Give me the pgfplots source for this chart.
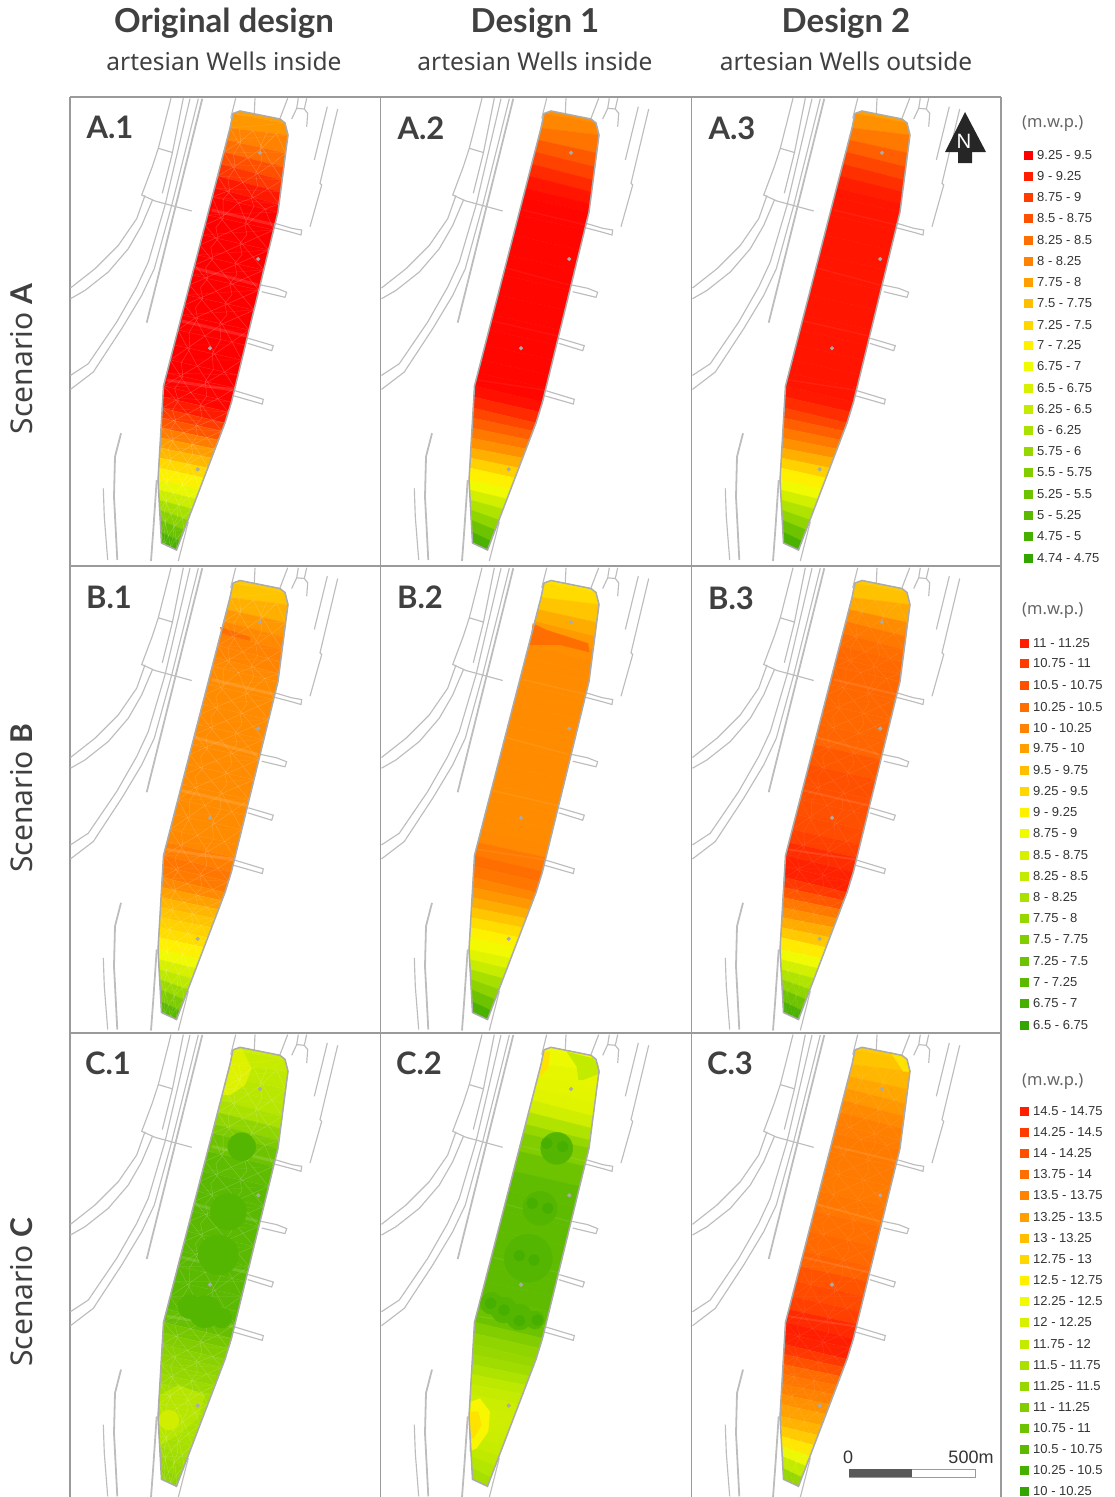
\documentclass[border=0pt]{standalone}
\usepackage{fontspec}
\setmainfont{Noto Sans}
\newfontfamily\lab{Liberation Sans}
\newfontfamily\hb{Lato}
\usepackage{pgfplots}
\usepackage{pgfplotstable}
\pgfplotsset{compat=1.18}
\definecolor{txt}{HTML}{404040}
\definecolor{strk}{HTML}{BDBDBD}
\definecolor{edge}{HTML}{ABABAB}
\definecolor{frm}{HTML}{9A9A9A}
\definecolor{cA}{HTML}{54B600}
\definecolor{cB}{HTML}{46AF00}
\definecolor{hotB}{HTML}{FF6E00}
\definecolor{l85}{HTML}{FFE300}
\definecolor{l95}{HTML}{F8F600}
\definecolor{l12}{HTML}{C3EB00}
\definecolor{l107}{HTML}{DEF200}
\definecolor{l125}{HTML}{B6E600}
\definecolor{l11}{HTML}{D2EE00}

\pgfplotstableread{
x y a1 a2 a3 b1 b2 b3 c1 c2 c3
240 111 6 5.5 6 7.5 8.5 7.5 11.5 10 7.5
280 119 6 5.5 6 7.5 8.5 7.5 11.5 10 7.5
233 113.5 6 5.5 6 7.5 8.5 7.5 11.5 10 7.5
285 123 6 5.5 6 7.5 8.5 7.5 11.5 10 7.5
230 128 5.5 4.8 5 7 7.8 6.8 12 10.3 7
288 135 5.5 4.8 5 7 7.8 6.8 12 10.3 7
226.9 140 4.5 3.8 4 6 6.8 5.8 12.3 10.5 6.5
285.7 153 4.5 3.8 4 6 6.8 5.8 12.3 10.5 6.5
223.8 152 3.5 2.8 3 5.5 6 4.8 12.5 10.5 6
283.8 167 3.5 2.8 3 5.5 6 4.8 12.5 10.5 6
220.7 164 2.5 1.8 2 5 5.6 4.2 12.5 10.8 5.5
282.2 180 2.5 1.8 2 5 5.6 4.2 12.5 10.8 5.5
217.6 176 1.2 1 1.2 5 5.3 3.9 13.5 12 5
280.6 192 1.2 1 1.2 5 5.3 3.9 13.5 12 5
214.5 188 .5 .4 .8 5.2 5.3 3.8 15 13.5 4.8
279 204 .5 .4 .8 5.2 5.3 3.8 15 13.5 4.8
212.2 197 .2 .2 .7 5.3 5.3 3.8 15.5 14.5 4.7
278 212 .2 .2 .7 5.3 5.3 3.8 15.5 14.5 4.7
207.6 215 0 .2 .7 5.3 5.3 3.8 16.5 15.5 4.6
273.6 230 0 .2 .7 5.3 5.3 3.8 16.5 15.5 4.6
202.5 235 0 .2 .7 5.3 5.3 3.8 17 16.6 4.6
268.7 250 0 .2 .7 5.3 5.3 3.8 17 16.6 4.6
197.3 255 0 .2 .7 5.3 5.3 3.8 17 16.8 4.6
263.8 270 0 .2 .7 5.3 5.3 3.8 17 16.8 4.6
192.1 275 0 .2 .7 5.3 5.3 3.6 17 16.8 4.3
258.9 290 0 .2 .7 5.3 5.3 3.6 17 16.8 4.3
187 295 0 .2 .7 5.3 5.3 3 17 16.8 3.9
254 310 0 .2 .7 5.3 5.3 3 17 16.8 3.9
181.8 315 0 .2 .7 5.3 5.3 3 17 16.8 3.8
249.1 330 0 .2 .7 5.3 5.3 3 17 16.8 3.8
177.9 330 0 .2 .7 5.3 5.3 3 17 16.8 3.5
245.5 345 0 .2 .7 5.3 5.3 3 17 16.8 3.5
174 345 0 .2 .7 5.3 5.3 2.9 17 16.8 2.7
241.8 360 0 .2 .7 5.3 5.3 2.9 17 16.8 2.7
170.2 360 0 .2 .7 5.3 5.3 2.7 17 16.8 2.7
238.1 375 0 .2 .7 5.3 5.3 2.7 17 16.8 2.7
166.8 373 0 .2 .7 5.2 5.2 1.8 16.8 16.5 1.7
234.9 388 0 .2 .7 5.2 5.2 1.8 16.8 16.5 1.7
163.5 386 .2 .3 .7 4.5 4 1.3 16 15.5 1.1
231.5 402 .2 .3 .7 4.5 4 1.3 16 15.5 1.1
162.9 397 .3 .8 1 4.3 4 1 15.2 14.5 1
228.4 412 .3 .8 1 4.3 4 1 15.2 14.5 1
162.2 408 1.5 2 2 5 4.8 1.3 14.8 14 1.3
225 423 1.5 2 2 5 4.8 1.3 14.8 14 1.3
161.6 418 2.5 3 3 5.5 5.5 2.5 14.5 13.8 2.4
221.9 431 2.5 3 3 5.5 5.5 2.5 14.5 13.8 2.4
161 428 4 4 4 6.5 6 4 14.2 13.2 3.6
218.5 440 4 4 4 6.5 6 4 14.2 13.2 3.6
160.5 438 5.5 5 5 7 6.8 5 14 12.5 4.2
215.1 449 5.5 5 5 7 6.8 5 14 12.5 4.2
159.9 448 6.3 6 6 7.5 7.8 6 13.5 12 4.7
211.6 458 6.3 6 6 7.5 7.8 6 13.5 12 4.7
159.3 458 7.3 7 7 8 8.7 6.8 13.2 11.8 5.2
207.8 468 7.3 7 7 8 8.7 6.8 13.2 11.8 5.2
158.7 468 8.8 8.5 8.5 8.5 9.5 8 13 11.5 5.8
204 478 8.8 8.5 8.5 8.5 9.5 8 13 11.5 5.8
158 480 9.6 9.5 9.5 9.5 10.3 9.5 13 11.5 6.3
199.8 489 9.6 9.5 9.5 9.5 10.3 9.5 13 11.5 6.3
158.6 490 11 10.5 10.5 10.5 11 10.5 13 11.5 7
196 499 11 10.5 10.5 10.5 11 10.5 13 11.5 7
159.1 500 12.3 12 12 11.5 12.5 12 13 11.7 8
192.1 509 12.3 12 12 11.5 12.5 12 13 11.7 8
159.7 510 14 13.5 13.5 13 13.8 13.5 13.3 12 9.3
188 520 14 13.5 13.5 13 13.8 13.5 13.3 12 9.3
160.2 520 15.3 15 15 14.5 15 15 13.6 12.3 11
184.1 530 15.3 15 15 14.5 15 15 13.6 12.3 11
160.9 532 17 17 17 16 17 17 14 12.8 13
179.9 541 17 17 17 16 17 17 14 12.8 13
161.5 543 18.5 18.5 18.5 18 18.5 18.5 14.5 13.5 15
176.5 550 18.5 18.5 18.5 18 18.5 18.5 14.5 13.5 15
}\bands

\pgfplotstableread{
xl yl xr yr
230 128 288 135
226.9 140 285.7 153
223.8 152 283.8 167
220.7 164 282.2 180
217.6 176 280.6 192
214.5 188 279 204
212.2 197 278 212
207.6 215 273.6 230
205 225 271 240
202.5 235 268.7 250
199.9 245 266.2 260
197.3 255 263.8 270
194.7 265 261.3 280
192.1 275 258.9 290
189.5 285 256.4 300
187 295 254 310
184.4 305 251.5 320
181.8 315 249.1 330
177.9 330 245.5 345
174 345 241.8 360
170.2 360 238.1 375
166.8 373 234.9 388
163.5 386 231.5 402
162.9 397 228.4 412
162.2 408 225 423
161.6 418 221.9 431
161 428 218.5 440
160.5 438 215.1 449
159.9 448 211.6 458
159.3 458 207.8 468
158.7 468 204 478
158 480 199.8 489
158.6 490 196 499
159.1 500 192.1 509
159.7 510 188 520
160.2 520 184.1 530
160.9 532 179.9 541
161.5 543 176.5 550
}\meshrows

\pgfplotstableread{
x y
171 98.3
158.3 148.3
171.7 152.3
nan nan
158.3 148.3
152.3 166.7
141.7 195
155 201
191.7 211
nan nan
183.3 98.3
172.3 153.3
162.3 193.3
nan nan
190 98.7
178.3 148.7
165 205.4
148.3 262
136.7 287
116.7 322
88.3 363.7
70.5 375.4
nan nan
198.3 98.7
186.7 145.4
171.7 205.4
154.3 268.7
141.7 295.4
121.7 328.7
93.3 372
70.5 389.4
nan nan
70.5 288
95 268.7
118.3 245.4
136.7 218.7
145 195.4
nan nan
70.5 298.7
85 290.4
108.3 272
128.3 248.7
141.7 225.4
152.3 200.4
nan nan
235.7 98.3
230.7 118.3
nan nan
255 98.3
254.3 113.3
nan nan
287.7 98.3
280 118.3
nan nan
298.3 98.3
296.7 108.3
291.7 119
nan nan
306.7 98.3
304.3 109
307.7 113.3
306.7 126.7
nan nan
296.7 108.3
304.3 109
nan nan
327.3 106.7
314.3 160
nan nan
337.7 109
320 183.3
321.7 185
310 226.7
nan nan
275 223.3
291.7 228.3
301.7 230
301 235
291.7 232.3
274.3 227.7
nan nan
261 285
276.7 288.3
286.7 292.3
285 297.3
261.7 291.7
nan nan
248.3 338.3
263.3 342.7
273.3 345.7
271.7 350.7
247.7 343.3
nan nan
235 390.7
263.3 399.3
262.3 404
233.3 395.7
nan nan
103.3 488.3
104.3 516.7
107.7 560
nan nan
188.3 521.7
178.3 561
}\streets

\pgfplotstableread{
x y
202.3 98.7
175 208.7
146.7 322.7
nan nan
121 433.3
115 456.7
114 496.7
117.3 560
nan nan
156.7 480
153.3 530
151 561
}\thick

\pgfplotstableread{
x y
233 113.5
240 111
280 119
285 123
288 135
278 212
231.5 402
225 423
176.5 550
161.5 543
158 480
163.5 386
230 128
233 113.5
}\site

\pgfplotstableread{
x y
211.7 210
275 225
nan nan
195 268
258 285
nan nan
181.7 321
246.7 336
nan nan
166.7 380
233 390
}\dikes

\pgfplotstableread{
x y
260 152.7
258.3 259
210 348.3
197.7 469.3
}\wells

\pgfplotstableread{
x y l
1028 155 0
1028 176 1
1028 197 2
1028 218 3
1028 240 4
1028 261 5
1028 282 6
1028 303 7
1028 325 8
1028 345 9
1028 366 10
1028 388 11
1028 409 12
1028 430 13
1028 451 14
1028 472 15
1028 494 16
1028 515 17
1028 536 18
1028 558 19
1024 643 1
1024 663 2
1024 685 3
1024 707 4
1024 728 5
1024 748 6
1024 770 7
1024 791 8
1024 812 9
1024 833 10
1024 855 11
1024 876 12
1024 897 13
1024 918 14
1024 939 15
1024 961 16
1024 982 17
1024 1003 18
1024 1025 19
1024 1111 1
1024 1132 2
1024 1153 3
1024 1174 4
1024 1195 5
1024 1217 6
1024 1238 7
1024 1259 8
1024 1280 9
1024 1301 10
1024 1322 11
1024 1344 12
1024 1365 13
1024 1386 14
1024 1407 15
1024 1428 16
1024 1449 17
1024 1470 18
1024 1491 19
}\legsq

\newcommand{\base}[3]{%
 \addplot[strk,line width=1.15,unbounded coords=jump] table[x expr=\thisrow{x}+#1,y expr=\thisrow{y}+#2]{\streets};
 \addplot[strk,line width=1.8,unbounded coords=jump] table[x expr=\thisrow{x}+#1,y expr=\thisrow{y}+#2]{\thick};
 \addplot[surf,shader=flat,mesh/cols=2,mesh/rows=35,point meta=\thisrow{#3}] table[x expr=\thisrow{x}+#1,y expr=\thisrow{y}+#2]{\bands};
}
\newcommand{\zig}[5]{%
 \addplot[white,opacity=#3,line width=.4,forget plot] table[x expr={\thisrow{xl}+(\thisrow{xr}-\thisrow{xl})*(#4+#5*(2*mod(\coordindex,2)-1))+#1},y expr={\thisrow{yl}+(\thisrow{yr}-\thisrow{yl})*(#4+#5*(2*mod(\coordindex,2)-1))+#2}]{\meshrows};
}
\newcommand{\triangles}[3]{%
 \addplot[white,opacity=#3*.45,line width=.4] table[x expr=\thisrow{x}+#1,y expr=\thisrow{y}+#2]{\bands};
 \zig{#1}{#2}{#3}{.1}{.1}\zig{#1}{#2}{#3}{.3}{-.1}
 \zig{#1}{#2}{#3}{.5}{.1}\zig{#1}{#2}{#3}{.7}{-.1}
 \zig{#1}{#2}{#3}{.9}{.1}
 \zig{#1}{#2}{#3}{.2}{.035}\zig{#1}{#2}{#3}{.6}{-.035}
}
\newcommand{\finish}[4]{%
 \addplot[white,opacity=#3,line width=#4,unbounded coords=jump] table[x expr=\thisrow{x}+#1,y expr=\thisrow{y}+#2]{\dikes};
 \addplot[edge,line width=1.5] table[x expr=\thisrow{x}+#1,y expr=\thisrow{y}+#2]{\site};
 \addplot[only marks,color=edge,mark=*,mark size=1.9] table[x expr=\thisrow{x}+#1,y expr=\thisrow{y}+#2]{\wells};
}
\newcommand{\blobs}[2]{\addplot[only marks,color=#2,mark=*,mark size=#1] coordinates}
\newcommand{\leg}[3]{\node[anchor=west,inner sep=0pt,txt!80!black,font=\lab\fontsize{13}{15}\selectfont] at (axis cs:#1,#2) {#3};}
\newcommand{\plabel}[3]{\node[anchor=center,inner sep=0pt,txt,font=\hb\bfseries\fontsize{31}{33}\selectfont] at (axis cs:#1,#2) {#3};}

\begin{document}
\begin{tikzpicture}
\useasboundingbox (0,0) rectangle (1115pt,1497pt);
\begin{axis}[
  at={(0,0)},anchor=south west,
  scale only axis,width=1115pt,height=1497pt,
  xmin=0,xmax=1115,ymin=0,ymax=1497,y dir=reverse,
  hide axis,enlargelimits=false,
  point meta min=0,point meta max=19,
  colormap={site}{rgb255=(255,0,0) rgb255=(255,30,0) rgb255=(255,60,0) rgb255=(255,80,0) rgb255=(255,110,0) rgb255=(255,130,0) rgb255=(255,160,0) rgb255=(255,190,0) rgb255=(255,215,0) rgb255=(255,240,0) rgb255=(240,250,0) rgb255=(215,240,0) rgb255=(195,235,0) rgb255=(170,225,0) rgb255=(150,215,0) rgb255=(130,205,0) rgb255=(110,195,0) rgb255=(90,185,0) rgb255=(70,175,0) rgb255=(50,165,0)},
  unbounded coords=jump,
]
\addplot[frm,line width=1.5] coordinates {(70,97)(1001,97)};
\addplot[frm,line width=1.5] coordinates {(70,566)(1001,566)};
\addplot[frm,line width=1.5] coordinates {(70,1033)(1001,1033)};
\addplot[frm,line width=1.3] coordinates {(70,97)(70,1497)};
\addplot[frm,line width=1.3] coordinates {(380.5,97)(380.5,1497)};
\addplot[frm,line width=1.3] coordinates {(691.5,97)(691.5,1497)};
\addplot[frm,line width=1.3] coordinates {(1001,97)(1001,1497)};

\base{0}{0}{a1}
\base{311}{0}{a2}
\base{622}{0}{a3}
\base{0}{469.5}{b1}
\base{311}{469.5}{b2}
\base{622}{469.5}{b3}
\base{0}{936.3}{c1}
\base{311}{936.3}{c2}
\base{622}{936.3}{c3}

\addplot[fill=hotB,draw=none] coordinates {(220,627)(250,637)(250,641)(222,634)} -- cycle;
\addplot[fill=hotB,draw=none] coordinates {(532.7,623.3)(546.7,630)(588.3,643.3)(589.3,652.3)(560,645)(530,645)} -- cycle;
\addplot[fill=l107,draw=none] coordinates {(233.3,1050)(241.7,1048.3)(251.7,1068.3)(245,1085)(230,1095)(221.7,1095)(228.3,1068.3)} -- cycle;
\addplot[fill=l125,draw=none] coordinates {(160,1395)(178.3,1385)(205,1395)(198.3,1418.3)(178.3,1435)(160,1445)} -- cycle;
\blobs{10}{l11} {(169,1420)};
\blobs{14}{cA} {(241.7,1146.7)};
\blobs{18}{cA} {(228.3,1211.7)};
\blobs{20}{cA} {(218.3,1255)};
\blobs{16}{cA} {(205,1311.7)};
\blobs{12}{cA} {(190,1306.7)};
\blobs{10}{cA} {(221.7,1318)};
\addplot[fill=l85,draw=none] coordinates {(543.3,1051.7)(550,1051.7)(548.3,1068.3)(540,1076.7)(539.3,1071.7)} -- cycle;
\addplot[fill=l12,draw=none] coordinates {(566.7,1051.7)(593.3,1058.3)(598.3,1065)(600,1073.3)(583.3,1080)(578.3,1080)(576.7,1066.7)} -- cycle;
\addplot[fill=l95,draw=none] coordinates {(470.7,1401.7)(480,1398.3)(490,1411.7)(488.3,1431.7)(476.7,1448.3)(469.3,1451.7)} -- cycle;
\addplot[fill=l85,draw=none] coordinates {(470,1411.7)(478.3,1411.7)(481.7,1425)(475,1436.7)(469.3,1440)} -- cycle;
\blobs{16}{cA} {(556.7,1148.3)};
\blobs{17}{cA} {(540,1208.3)};
\blobs{24}{cA} {(528.3,1258.3)};
\blobs{11}{cA} {(491.5,1303.3)};
\blobs{13}{cA} {(504,1310)(519.3,1317)};
\blobs{9}{cA} {(535,1320)};
\blobs{5.5}{cB} {(546.7,1143.3)(562.7,1146.7)(532.3,1203.3)(547.7,1208.3)(519.3,1255.7)(534,1260)(490.7,1303.3)(504,1310)(519.3,1320.7)(537.3,1320)};
\addplot[fill=l85,draw=none] coordinates {(890,1051.7)(906.7,1058.3)(910.7,1071.7)(903.3,1071.7)} -- cycle;

\triangles{0}{0}{.24}
\triangles{0}{469.5}{.2}
\triangles{0}{936.3}{.22}
\triangles{622}{469.5}{.1}
\triangles{622}{936.3}{.1}

\finish{0}{0}{.13}{3}
\finish{311}{0}{.05}{1.5}
\finish{622}{0}{.06}{1.5}
\finish{0}{469.5}{.13}{3}
\finish{311}{469.5}{.07}{1.5}
\finish{622}{469.5}{.1}{2}
\finish{0}{936.3}{.13}{3}
\finish{311}{936.3}{.07}{1.5}
\finish{622}{936.3}{.1}{2}

\addplot[fill=black!85,draw=none] coordinates {(945,152)(965,112)(986,152)(972,152)(972,163)(958,163)(958,152)} -- cycle;
\node[white,font=\fontsize{20}{22}\selectfont,inner sep=0pt] at (axis cs:964,141) {N};

\addplot[fill=white,draw=frm,line width=.8] coordinates {(849,1469)(975,1469)(975,1477)(849,1477)} -- cycle;
\addplot[fill=black!65,draw=none] coordinates {(849,1469)(912,1469)(912,1477)(849,1477)} -- cycle;
\node[txt!80!black,inner sep=0pt,font=\lab\fontsize{18}{20}\selectfont] at (axis cs:848,1457) {0};
\node[txt!80!black,inner sep=0pt,font=\lab\fontsize{18}{20}\selectfont] at (axis cs:971,1457) {500m};

\addplot[scatter,only marks,scatter src=explicit,mark=square*,mark size=4.3,scatter/use mapped color={draw=mapped color,fill=mapped color}] table[x=x,y=y,meta=l]{\legsq};

\node[txt,font=\hb\bfseries\fontsize{33}{35}\selectfont,inner sep=0pt] at (axis cs:224,23) {Original design};
\node[txt,font=\hb\bfseries\fontsize{33}{35}\selectfont,inner sep=0pt] at (axis cs:535,23) {Design 1};
\node[txt,font=\hb\bfseries\fontsize{33}{35}\selectfont,inner sep=0pt] at (axis cs:846,23) {Design 2};
\node[txt,font=\fontsize{24.5}{26}\selectfont,inner sep=0pt] at (axis cs:224,61) {artesian Wells inside};
\node[txt,font=\fontsize{24.5}{26}\selectfont,inner sep=0pt] at (axis cs:535,61) {artesian Wells inside};
\node[txt,font=\fontsize{24.5}{26}\selectfont,inner sep=0pt] at (axis cs:846,61) {artesian Wells outside};

\node[txt,rotate=90,font=\fontsize{30}{32}\selectfont,inner sep=0pt] at (axis cs:22,359) {Scenario {\hb\bfseries A}};
\node[txt,rotate=90,font=\fontsize{30}{32}\selectfont,inner sep=0pt] at (axis cs:22,798) {Scenario {\hb\bfseries B}};
\node[txt,rotate=90,font=\fontsize{30}{32}\selectfont,inner sep=0pt] at (axis cs:22,1292) {Scenario {\hb\bfseries C}};

\plabel{110}{127}{A.1}\plabel{421}{128}{A.2}\plabel{732}{128}{A.3}
\plabel{109}{597}{B.1}\plabel{420}{597}{B.2}\plabel{731}{598}{B.3}
\plabel{108}{1063}{C.1}\plabel{419}{1063}{C.2}\plabel{730}{1063}{C.3}

\node[anchor=west,inner sep=0pt,txt!80,font=\fontsize{16.5}{18}\selectfont] at (axis cs:1022,124) {(m.w.p.)};
\node[anchor=west,inner sep=0pt,txt!80,font=\fontsize{16.5}{18}\selectfont] at (axis cs:1022,611) {(m.w.p.)};
\node[anchor=west,inner sep=0pt,txt!80,font=\fontsize{16.5}{18}\selectfont] at (axis cs:1022,1082) {(m.w.p.)};
\leg{1037}{155}{9.25 - 9.5}\leg{1037}{176}{9 - 9.25}\leg{1037}{197}{8.75 - 9}\leg{1037}{218}{8.5 - 8.75}
\leg{1037}{240}{8.25 - 8.5}\leg{1037}{261}{8 - 8.25}\leg{1037}{282}{7.75 - 8}\leg{1037}{303}{7.5 - 7.75}
\leg{1037}{325}{7.25 - 7.5}\leg{1037}{345}{7 - 7.25}\leg{1037}{366}{6.75 - 7}\leg{1037}{388}{6.5 - 6.75}
\leg{1037}{409}{6.25 - 6.5}\leg{1037}{430}{6 - 6.25}\leg{1037}{451}{5.75 - 6}\leg{1037}{472}{5.5 - 5.75}
\leg{1037}{494}{5.25 - 5.5}\leg{1037}{515}{5 - 5.25}\leg{1037}{536}{4.75 - 5}\leg{1037}{558}{4.74 - 4.75}
\leg{1033}{643}{11 - 11.25}\leg{1033}{663}{10.75 - 11}\leg{1033}{685}{10.5 - 10.75}\leg{1033}{707}{10.25 - 10.5}
\leg{1033}{728}{10 - 10.25}\leg{1033}{748}{9.75 - 10}\leg{1033}{770}{9.5 - 9.75}\leg{1033}{791}{9.25 - 9.5}
\leg{1033}{812}{9 - 9.25}\leg{1033}{833}{8.75 - 9}\leg{1033}{855}{8.5 - 8.75}\leg{1033}{876}{8.25 - 8.5}
\leg{1033}{897}{8 - 8.25}\leg{1033}{918}{7.75 - 8}\leg{1033}{939}{7.5 - 7.75}\leg{1033}{961}{7.25 - 7.5}
\leg{1033}{982}{7 - 7.25}\leg{1033}{1003}{6.75 - 7}\leg{1033}{1025}{6.5 - 6.75}
\leg{1033}{1111}{14.5 - 14.75}\leg{1033}{1132}{14.25 - 14.5}\leg{1033}{1153}{14 - 14.25}\leg{1033}{1174}{13.75 - 14}
\leg{1033}{1195}{13.5 - 13.75}\leg{1033}{1217}{13.25 - 13.5}\leg{1033}{1238}{13 - 13.25}\leg{1033}{1259}{12.75 - 13}
\leg{1033}{1280}{12.5 - 12.75}\leg{1033}{1301}{12.25 - 12.5}\leg{1033}{1322}{12 - 12.25}\leg{1033}{1344}{11.75 - 12}
\leg{1033}{1365}{11.5 - 11.75}\leg{1033}{1386}{11.25 - 11.5}\leg{1033}{1407}{11 - 11.25}\leg{1033}{1428}{10.75 - 11}
\leg{1033}{1449}{10.5 - 10.75}\leg{1033}{1470}{10.25 - 10.5}\leg{1033}{1491}{10 - 10.25}
\end{axis}
\end{tikzpicture}
\end{document}
